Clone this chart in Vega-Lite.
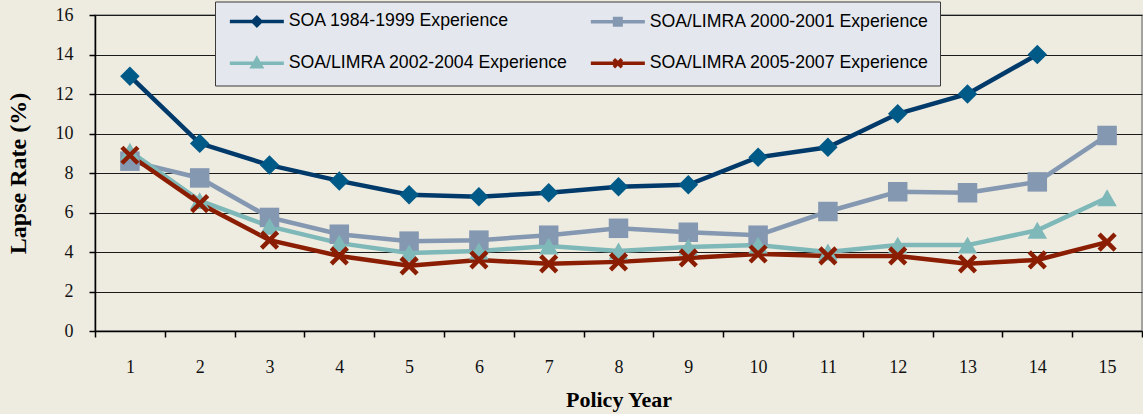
{
  "$schema": "https://vega.github.io/schema/vega-lite/v6.json",
  "width": 1047,
  "height": 316,
  "autosize": {"type": "none"},
  "padding": {"left": 95, "top": 15, "right": 1, "bottom": 83},
  "background": "#EEECE1",
  "config": {
    "view": {"stroke": "#8a8a8a", "strokeWidth": 1.5, "fill": "#EEECE1"},
    "axis": {
      "labelFont": "Liberation Serif",
      "labelFontSize": 18,
      "labelColor": "#111111",
      "titleFont": "Liberation Serif",
      "titleFontWeight": "bold",
      "titleColor": "#000000",
      "domainColor": "#000000",
      "domainWidth": 1.5,
      "tickColor": "#000000",
      "tickWidth": 1.5,
      "tickSize": 6
    }
  },
  "data": {
    "values": [
      {"year": 1, "series": "SOA 1984-1999 Experience", "value": 12.9},
      {"year": 2, "series": "SOA 1984-1999 Experience", "value": 9.5},
      {"year": 3, "series": "SOA 1984-1999 Experience", "value": 8.4},
      {"year": 4, "series": "SOA 1984-1999 Experience", "value": 7.6},
      {"year": 5, "series": "SOA 1984-1999 Experience", "value": 6.9},
      {"year": 6, "series": "SOA 1984-1999 Experience", "value": 6.8},
      {"year": 7, "series": "SOA 1984-1999 Experience", "value": 7.0},
      {"year": 8, "series": "SOA 1984-1999 Experience", "value": 7.3},
      {"year": 9, "series": "SOA 1984-1999 Experience", "value": 7.4},
      {"year": 10, "series": "SOA 1984-1999 Experience", "value": 8.8},
      {"year": 11, "series": "SOA 1984-1999 Experience", "value": 9.3},
      {"year": 12, "series": "SOA 1984-1999 Experience", "value": 11.0},
      {"year": 13, "series": "SOA 1984-1999 Experience", "value": 12.0},
      {"year": 14, "series": "SOA 1984-1999 Experience", "value": 14.0},
      {"year": 1, "series": "SOA/LIMRA 2000-2001 Experience", "value": 8.6},
      {"year": 2, "series": "SOA/LIMRA 2000-2001 Experience", "value": 7.75},
      {"year": 3, "series": "SOA/LIMRA 2000-2001 Experience", "value": 5.75},
      {"year": 4, "series": "SOA/LIMRA 2000-2001 Experience", "value": 4.9},
      {"year": 5, "series": "SOA/LIMRA 2000-2001 Experience", "value": 4.55},
      {"year": 6, "series": "SOA/LIMRA 2000-2001 Experience", "value": 4.6},
      {"year": 7, "series": "SOA/LIMRA 2000-2001 Experience", "value": 4.85},
      {"year": 8, "series": "SOA/LIMRA 2000-2001 Experience", "value": 5.2},
      {"year": 9, "series": "SOA/LIMRA 2000-2001 Experience", "value": 5.0},
      {"year": 10, "series": "SOA/LIMRA 2000-2001 Experience", "value": 4.85},
      {"year": 11, "series": "SOA/LIMRA 2000-2001 Experience", "value": 6.05},
      {"year": 12, "series": "SOA/LIMRA 2000-2001 Experience", "value": 7.05},
      {"year": 13, "series": "SOA/LIMRA 2000-2001 Experience", "value": 7.0},
      {"year": 14, "series": "SOA/LIMRA 2000-2001 Experience", "value": 7.55},
      {"year": 15, "series": "SOA/LIMRA 2000-2001 Experience", "value": 9.9},
      {"year": 1, "series": "SOA/LIMRA 2002-2004 Experience", "value": 9.1},
      {"year": 2, "series": "SOA/LIMRA 2002-2004 Experience", "value": 6.6},
      {"year": 3, "series": "SOA/LIMRA 2002-2004 Experience", "value": 5.3},
      {"year": 4, "series": "SOA/LIMRA 2002-2004 Experience", "value": 4.45},
      {"year": 5, "series": "SOA/LIMRA 2002-2004 Experience", "value": 3.95},
      {"year": 6, "series": "SOA/LIMRA 2002-2004 Experience", "value": 4.05},
      {"year": 7, "series": "SOA/LIMRA 2002-2004 Experience", "value": 4.3},
      {"year": 8, "series": "SOA/LIMRA 2002-2004 Experience", "value": 4.05},
      {"year": 9, "series": "SOA/LIMRA 2002-2004 Experience", "value": 4.25},
      {"year": 10, "series": "SOA/LIMRA 2002-2004 Experience", "value": 4.35},
      {"year": 11, "series": "SOA/LIMRA 2002-2004 Experience", "value": 4.0},
      {"year": 12, "series": "SOA/LIMRA 2002-2004 Experience", "value": 4.35},
      {"year": 13, "series": "SOA/LIMRA 2002-2004 Experience", "value": 4.35},
      {"year": 14, "series": "SOA/LIMRA 2002-2004 Experience", "value": 5.1},
      {"year": 15, "series": "SOA/LIMRA 2002-2004 Experience", "value": 6.75},
      {"year": 1, "series": "SOA/LIMRA 2005-2007 Experience", "value": 8.9},
      {"year": 2, "series": "SOA/LIMRA 2005-2007 Experience", "value": 6.45},
      {"year": 3, "series": "SOA/LIMRA 2005-2007 Experience", "value": 4.6},
      {"year": 4, "series": "SOA/LIMRA 2005-2007 Experience", "value": 3.8},
      {"year": 5, "series": "SOA/LIMRA 2005-2007 Experience", "value": 3.3},
      {"year": 6, "series": "SOA/LIMRA 2005-2007 Experience", "value": 3.6},
      {"year": 7, "series": "SOA/LIMRA 2005-2007 Experience", "value": 3.4},
      {"year": 8, "series": "SOA/LIMRA 2005-2007 Experience", "value": 3.5},
      {"year": 9, "series": "SOA/LIMRA 2005-2007 Experience", "value": 3.7},
      {"year": 10, "series": "SOA/LIMRA 2005-2007 Experience", "value": 3.9},
      {"year": 11, "series": "SOA/LIMRA 2005-2007 Experience", "value": 3.8},
      {"year": 12, "series": "SOA/LIMRA 2005-2007 Experience", "value": 3.8},
      {"year": 13, "series": "SOA/LIMRA 2005-2007 Experience", "value": 3.4},
      {"year": 14, "series": "SOA/LIMRA 2005-2007 Experience", "value": 3.6},
      {"year": 15, "series": "SOA/LIMRA 2005-2007 Experience", "value": 4.5}
    ]
  },
  "encoding": {
    "x": {
      "field": "year",
      "type": "ordinal",
      "scale": {"paddingInner": 0, "paddingOuter": 0},
      "axis": {
        "title": "Policy Year",
        "titleFontSize": 22,
        "titlePadding": 13,
        "labelAngle": 0,
        "labelPadding": 21,
        "tickBand": "extent",
        "grid": false
      }
    },
    "y": {
      "field": "value",
      "type": "quantitative",
      "scale": {"domain": [0, 16], "nice": false},
      "axis": {
        "title": "Lapse Rate (%)",
        "titleFontSize": 24,
        "titlePadding": 25,
        "values": [0, 2, 4, 6, 8, 10, 12, 14, 16],
        "labelPadding": 16,
        "grid": true,
        "gridColor": "#1a1a1a",
        "gridWidth": 1.2
      }
    }
  },
  "layer": [
    {
      "mark": {"type": "line", "strokeWidth": 4.5},
      "encoding": {
        "color": {
          "field": "series",
          "type": "nominal",
          "scale": {
            "domain": ["SOA 1984-1999 Experience", "SOA/LIMRA 2000-2001 Experience", "SOA/LIMRA 2002-2004 Experience", "SOA/LIMRA 2005-2007 Experience"],
            "range": ["#003A6A", "#8598B1", "#7FB8B8", "#8B1E02"]
          },
          "legend": {
            "title": null,
            "orient": "none",
            "legendX": 120,
            "legendY": -13.5,
            "columns": 2,
            "values": ["SOA 1984-1999 Experience", "SOA/LIMRA 2002-2004 Experience", "SOA/LIMRA 2000-2001 Experience", "SOA/LIMRA 2005-2007 Experience"],
            "columnPadding": 15,
            "rowPadding": 19,
            "padding": 11,
            "fillColor": "#E4E8EE",
            "strokeColor": "#3a3a3a",
            "labelFont": "Liberation Sans",
            "labelFontSize": 17.7,
            "labelColor": "#000000",
            "labelOffset": 23,
            "labelLimit": 0,
            "symbolSize": 100,
            "symbolOffset": 22,
            "symbolStrokeWidth": 3.5,
            "symbolOpacity": 1,
            "encode": {
              "symbols": {
                "update": {
                  "shape": {"signal": "datum.value === 'SOA 1984-1999 Experience' ? 'M-5.4,0H5.4M0,-0.8L0.8,0L0,0.8L-0.8,0Z' : datum.value === 'SOA/LIMRA 2000-2001 Experience' ? 'M-5.4,0H5.4M-0.65,-0.65H0.65V0.65H-0.65Z' : datum.value === 'SOA/LIMRA 2002-2004 Experience' ? 'M-5.4,0H5.4M0,-0.9L0.9,0.7H-0.9Z' : 'M-5.4,0H5.4M-0.8,-0.8L0.8,0.8M-0.8,0.8L0.8,-0.8'"},
                  "fill": {"signal": "scale('color', datum.value)"},
                  "stroke": {"signal": "scale('color', datum.value)"}
                }
              }
            }
          }
        }
      }
    },
    {
      "transform": [{"filter": "datum.series !== 'SOA/LIMRA 2005-2007 Experience'"}],
      "mark": {"type": "point", "filled": true, "opacity": 1, "size": 380},
      "encoding": {
        "fill": {
          "field": "series",
          "type": "nominal",
          "scale": {
            "domain": ["SOA 1984-1999 Experience", "SOA/LIMRA 2000-2001 Experience", "SOA/LIMRA 2002-2004 Experience"],
            "range": ["#005A87", "#8598B1", "#7FB8B8"]
          },
          "legend": null
        },
        "shape": {
          "field": "series",
          "type": "nominal",
          "scale": {
            "domain": ["SOA 1984-1999 Experience", "SOA/LIMRA 2000-2001 Experience", "SOA/LIMRA 2002-2004 Experience"],
            "range": ["diamond", "square", "triangle-up"]
          },
          "legend": null
        }
      }
    },
    {
      "transform": [{"filter": "datum.series === 'SOA/LIMRA 2005-2007 Experience'"}],
      "mark": {
        "type": "point",
        "filled": false,
        "opacity": 1,
        "shape": "M-1,-1L1,1M-1,1L1,-1",
        "size": 256,
        "strokeWidth": 4.5,
        "color": "#8B1E02"
      }
    }
  ]
}
